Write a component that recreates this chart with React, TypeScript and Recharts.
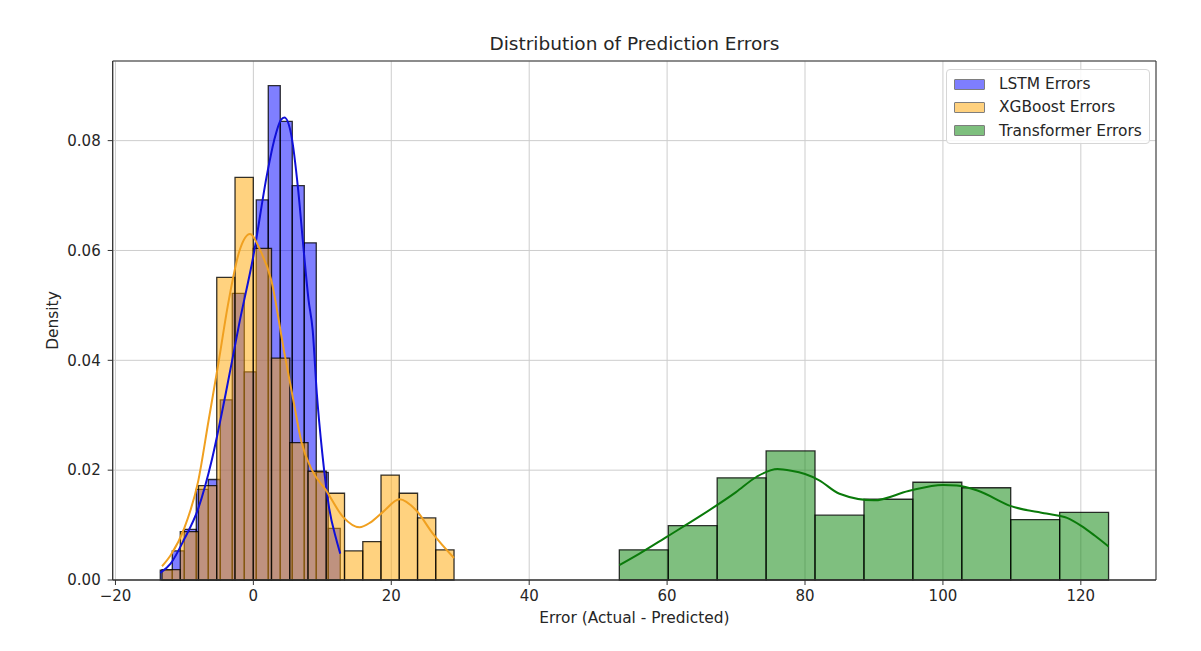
import { ComposedChart, Line, XAxis, YAxis, CartesianGrid, ReferenceArea } from "recharts";

// histogram bin edges / densities
const LSTM_EDGES = [-13.5, -11.76, -10.02, -8.28, -6.54, -4.8, -3.06, -1.32, 0.42, 2.16, 3.9, 5.64, 7.38, 9.12, 10.86, 12.6];
const LSTM_HEIGHTS = [0.0018, 0.0053, 0.0092, 0.0165, 0.0183, 0.0328, 0.0522, 0.0379, 0.0692, 0.09, 0.0835, 0.0718, 0.0614, 0.0196, 0.0094];

const XGB_EDGES = [-13.25, -10.6, -7.96, -5.31, -2.66, -0.01, 2.63, 5.28, 7.93, 10.57, 13.22, 15.87, 18.51, 21.16, 23.81, 26.45, 29.1];
const XGB_HEIGHTS = [0.0019, 0.0088, 0.0172, 0.0551, 0.0733, 0.0604, 0.0404, 0.025, 0.0198, 0.0158, 0.0053, 0.007, 0.0191, 0.0158, 0.0113, 0.0055];

const TRANS_EDGES = [53.07, 60.17, 67.26, 74.36, 81.45, 88.55, 95.64, 102.74, 109.83, 116.93, 124.02];
const TRANS_HEIGHTS = [0.0055, 0.0099, 0.0186, 0.0235, 0.0118, 0.0147, 0.0178, 0.0168, 0.011, 0.0123];

// KDE curves
const LSTM_KDE = [
  { x: -13.5, d: 0.0013 }, { x: -12, d: 0.003 }, { x: -10, d: 0.0075 }, { x: -8, d: 0.013 },
  { x: -6, d: 0.022 }, { x: -4, d: 0.034 }, { x: -2, d: 0.047 }, { x: 0, d: 0.059 },
  { x: 2, d: 0.074 }, { x: 3, d: 0.08 }, { x: 4, d: 0.0838 }, { x: 4.5, d: 0.0842 },
  { x: 5.5, d: 0.081 }, { x: 6.5, d: 0.071 }, { x: 7.3, d: 0.06 }, { x: 8, d: 0.051 },
  { x: 8.6, d: 0.0455 }, { x: 9.2, d: 0.034 }, { x: 10, d: 0.023 }, { x: 11, d: 0.013 },
  { x: 12, d: 0.0075 }, { x: 12.6, d: 0.0048 },
];
const XGB_KDE = [
  { x: -13.25, d: 0.0025 }, { x: -12, d: 0.0045 }, { x: -10, d: 0.0095 }, { x: -8, d: 0.018 },
  { x: -6.5, d: 0.029 }, { x: -5, d: 0.04 }, { x: -3.7, d: 0.05 }, { x: -2, d: 0.06 },
  { x: -0.5, d: 0.063 }, { x: 1, d: 0.06 }, { x: 2.6, d: 0.0546 }, { x: 4.5, d: 0.0413 },
  { x: 5.7, d: 0.0334 }, { x: 7, d: 0.025 }, { x: 8.5, d: 0.02 }, { x: 10.5, d: 0.0164 },
  { x: 13, d: 0.0115 }, { x: 15.4, d: 0.0096 }, { x: 17, d: 0.0105 }, { x: 18.8, d: 0.0124 },
  { x: 21.2, d: 0.0147 }, { x: 23.6, d: 0.0127 }, { x: 26, d: 0.0085 }, { x: 29.1, d: 0.004 },
];
const TRANS_KDE = [
  { x: 53.07, d: 0.0027 }, { x: 56, d: 0.0048 }, { x: 60, d: 0.0079 }, { x: 65, d: 0.0118 },
  { x: 70, d: 0.016 }, { x: 73, d: 0.0188 }, { x: 76, d: 0.0202 }, { x: 78, d: 0.0199 },
  { x: 80, d: 0.0193 }, { x: 82, d: 0.0182 }, { x: 85, d: 0.0157 }, { x: 90, d: 0.0145 },
  { x: 95, d: 0.0162 }, { x: 100, d: 0.0173 }, { x: 102, d: 0.0172 }, { x: 105, d: 0.0163 },
  { x: 110, d: 0.0134 }, { x: 115, d: 0.0121 }, { x: 118, d: 0.0113 }, { x: 120, d: 0.0099 },
  { x: 122, d: 0.0081 }, { x: 124.02, d: 0.0061 },
];

const X_TICKS = [-20, 0, 20, 40, 60, 80, 100, 120];
const Y_TICKS = [0, 0.02, 0.04, 0.06, 0.08];
const X_DOMAIN = [-20.4, 130.9];
const Y_DOMAIN = [0, 0.0945];

const SERIES = [
  { name: "LSTM Errors", edges: LSTM_EDGES, heights: LSTM_HEIGHTS, kde: LSTM_KDE, fill: "#0000ff", line: "#1010d8" },
  { name: "XGBoost Errors", edges: XGB_EDGES, heights: XGB_HEIGHTS, kde: XGB_KDE, fill: "#ffa500", line: "#f0a020" },
  { name: "Transformer Errors", edges: TRANS_EDGES, heights: TRANS_HEIGHTS, kde: TRANS_KDE, fill: "#008000", line: "#0a7a0a" },
];

const FONT = "'DejaVu Sans', sans-serif";
const TEXT = "#262626";

function Legend() {
  return (
    <div style={{
      position: "absolute", left: 946, top: 69, width: 202, height: 73,
      border: "1px solid #d6d6d6", borderRadius: 4, background: "rgba(255,255,255,0.85)",
      fontFamily: FONT, fontSize: 15.4, color: TEXT,
    }}>
      {SERIES.map((s, i) => (
        <div key={s.name} style={{ position: "absolute", left: 7, top: 5 + i * 23.4, height: 18, display: "flex", alignItems: "center" }}>
          <span style={{ width: 29, height: 9, background: s.fill, opacity: 0.5, border: "1px solid #000", borderRadius: 1, display: "inline-block" }} />
          <span style={{ marginLeft: 14, whiteSpace: "nowrap" }}>{s.name}</span>
        </div>
      ))}
    </div>
  );
}

export default function App() {
  return (
    <div style={{ position: "absolute", left: 0, top: 0, width: 1201, height: 651, background: "#fff" }}>
      <div style={{ position: "absolute", left: 0, top: 33, width: 1201, paddingLeft: 68, boxSizing: "border-box", textAlign: "center", fontFamily: FONT, fontSize: 18.5, color: TEXT }}>
        Distribution of Prediction Errors
      </div>
      <ComposedChart width={1201} height={651} margin={{ top: 61, right: 45, bottom: 41, left: 52.7 }}>
        <CartesianGrid stroke="#cdcdcd" strokeWidth={1} />
        <XAxis
          type="number" dataKey="x" domain={X_DOMAIN} ticks={X_TICKS} allowDataOverflow height={30}
          tick={{ fill: TEXT, fontSize: 15, fontFamily: FONT }} tickSize={5} tickMargin={5}
          axisLine={{ stroke: "#333" }} tickLine={{ stroke: "#333" }}
          tickFormatter={(v) => (v < 0 ? `\u2212${Math.abs(v)}` : `${v}`)}
          label={{ value: "Error (Actual - Predicted)", position: "bottom", offset: 2, fill: TEXT, fontSize: 15.4, fontFamily: FONT }}
        />
        <YAxis
          type="number" domain={Y_DOMAIN} ticks={Y_TICKS} allowDataOverflow width={60}
          tick={{ fill: TEXT, fontSize: 15, fontFamily: FONT }} tickSize={5} tickMargin={7}
          axisLine={{ stroke: "#333" }} tickLine={{ stroke: "#333" }}
          tickFormatter={(v) => v.toFixed(2)}
          label={{ value: "Density", angle: -90, position: "insideLeft", offset: 0, fill: TEXT, fontSize: 15.4, fontFamily: FONT, style: { textAnchor: "middle" } }}
        />
        {SERIES.map((s) =>
          s.heights.map((h, i) => (
            <ReferenceArea
              key={s.name + i}
              x1={s.edges[i]} x2={s.edges[i + 1]} y1={0} y2={h}
              fill={s.fill} fillOpacity={0.5}
              stroke="#000" strokeOpacity={0.8} strokeWidth={1.3}
              ifOverflow="visible"
            />
          ))
        )}
        {SERIES.map((s) => (
          <Line
            key={s.name + "-kde"} name={s.name} data={s.kde} dataKey="d" type="monotone"
            stroke={s.line} strokeWidth={2} dot={false} activeDot={false} isAnimationActive={false}
          />
        ))}
        <ReferenceArea x1={X_DOMAIN[0]} x2={X_DOMAIN[1]} y1={Y_DOMAIN[0]} y2={Y_DOMAIN[1]} fill="none" stroke="#333" strokeWidth={1} ifOverflow="visible" />
      </ComposedChart>
      <Legend />
    </div>
  );
}
